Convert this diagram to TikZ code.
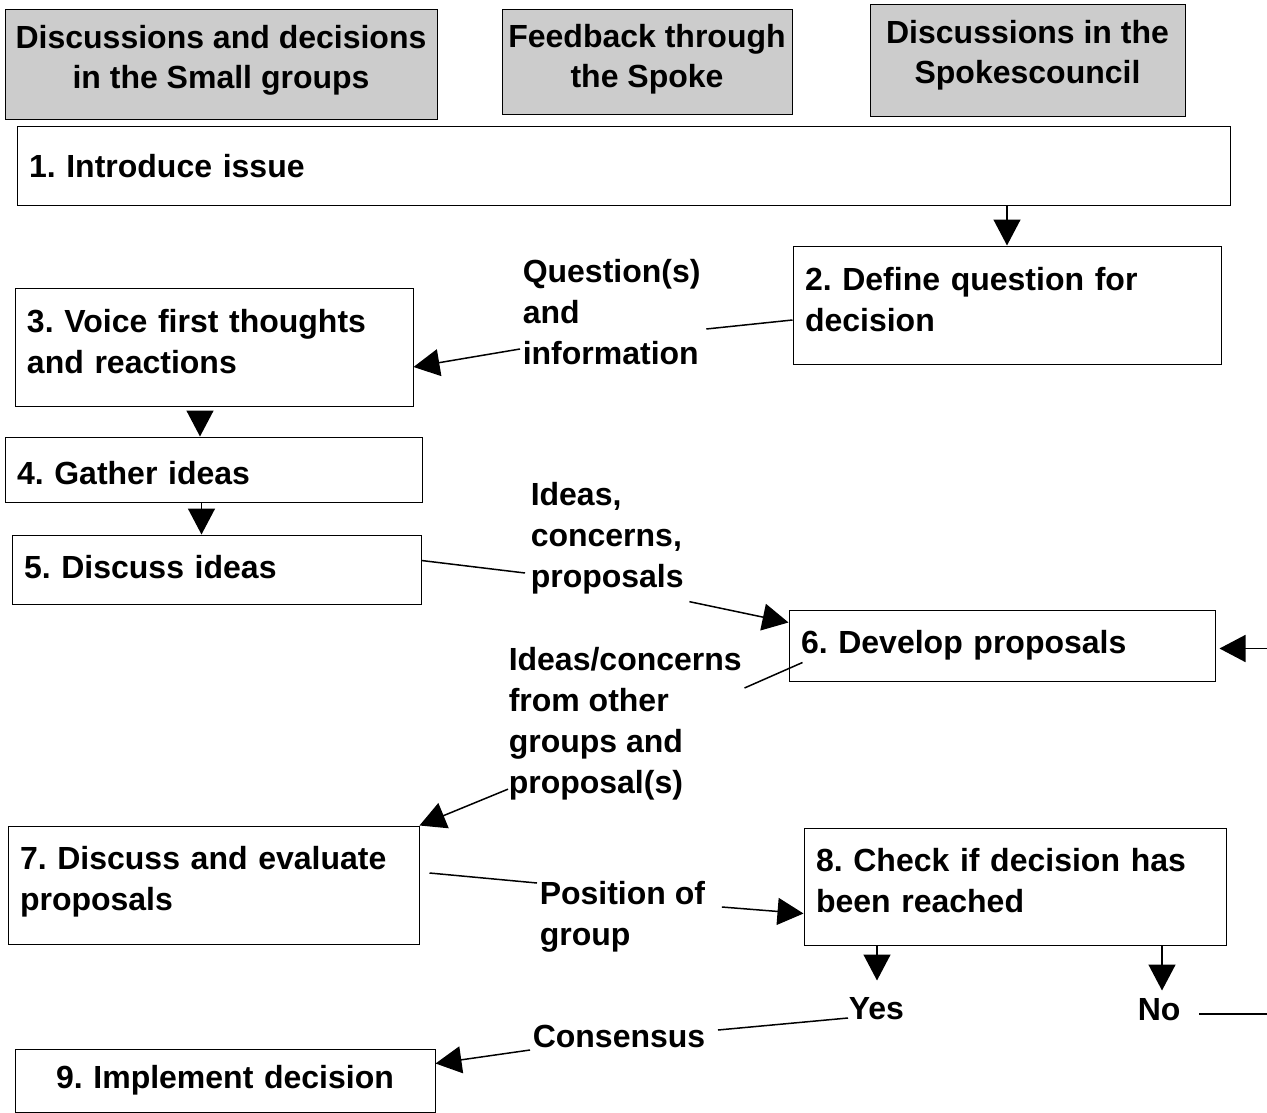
\documentclass[tikz,border=0pt]{standalone}
\usepackage{fontspec}
\setmainfont{Liberation Sans}
\usetikzlibrary{arrows.meta}
\frenchspacing

\begin{document}
\begin{tikzpicture}[x=1pt,y=-1pt,>={Triangle[length=26pt,width=27pt]},
                    line width=1.5pt,
                    every node/.style={font=\bfseries\fontsize{32}{41}\selectfont}]
  \tikzstyle{head}=[draw=black,line width=1pt,fill=black!20,align=center,inner sep=0,
                    font=\bfseries\fontsize{32}{40}\selectfont]
  \tikzstyle{box}=[draw=black,line width=1pt,align=left,inner xsep=12pt,inner ysep=0]
  \tikzstyle{note}=[align=left,inner sep=0,anchor=west]

  \useasboundingbox (0,0) rectangle (1267,1113);
  \clip (0,0) rectangle (1267,1113);

  % column headings
  \node[head,minimum width=432pt,minimum height=110pt,text depth=17pt] (small) at (221,65)
       {Discussions and decisions\\in the Small groups};
  \node[head,minimum width=290pt,minimum height=105pt,text depth=13pt] (spoke) at (647,62.5)
       {Feedback through\\the Spoke};
  \node[head,minimum width=315pt,minimum height=112pt,text depth=19pt] (council) at (1027.5,61)
       {Discussions in the\\Spokescouncil};

  % steps
  \node[box,text width=1189pt,minimum height=78pt]  (introduce) at (623.5,166) {1. Introduce issue};
  \node[box,text width=404pt,minimum height=118pt,text depth=52pt]  (define) at (1007,305)
       {2. Define question for\\decision};
  \node[box,text width=374pt,minimum height=118pt,text depth=53pt]  (voice) at (214,347)
       {3. Voice first thoughts\\and reactions};
  \node[box,text width=393pt,minimum height=65pt,text height=30pt] (gather) at (213.5,469.5) {4. Gather ideas};
  \node[box,text width=385pt,minimum height=69pt,text depth=6pt]   (discuss) at (216.5,569.5) {5. Discuss ideas};
  \node[box,text width=402pt,minimum height=71pt]   (develop)   at (1002,645.5) {6. Develop proposals};
  \node[box,text width=387pt,minimum height=118pt,text depth=54pt] (evaluate) at (213.5,885)
       {7. Discuss and evaluate\\proposals};
  \node[box,text width=398pt,minimum height=117pt,text depth=54pt] (check) at (1015,886.5)
       {8. Check if decision has\\been reached};
  \node[box,align=center,text width=396pt,minimum height=63pt] (implement) at (225,1080.5) {9. Implement decision};

  % labels on the connectors
  \node[note] (qinfo)     at (522,312)  {Question(s)\\and\\information};
  \node[note] (ideas)     at (530,538)  {Ideas,\\concerns,\\proposals};
  \node[note] (other)     at (508,724)  {Ideas/concerns\\from other\\groups and\\proposal(s)};
  \node[note] (position)  at (539,917)  {Position of\\group};
  \node[note] (yes)       at (848,1009) {Yes};
  \node[note] (no)        at (1137,1010) {No};
  \node[note] (consensus) at (532,1036) {Consensus};

  \draw[->] (introduce.south -| define.north) -- (define.north);

  \draw ([yshift=-15pt]define.west) -- ([xshift=5pt,yshift=-17pt]qinfo.east);
  \draw[->] ([xshift=-2pt,yshift=-37pt]qinfo.west) -- ([yshift=-20pt]voice.east);

  \draw[->] ([xshift=-14pt,yshift=-6pt]voice.south) -- ([xshift=-14pt]voice.south |- gather.north);
  \draw[->] ([xshift=-12pt]gather.south) -- ([xshift=-12pt]gather.south |- discuss.north);

  \draw ([yshift=9pt]discuss.east) -- ([xshift=-5pt,yshift=-35pt]ideas.west);
  \draw[->] ([xshift=5pt,yshift=-7pt]ideas.south east) -- ([yshift=23pt]develop.west);

  \draw ([xshift=14pt,yshift=-17pt]develop.west) -- ([xshift=2pt,yshift=36pt]other.east);
  \draw[->] ([yshift=12pt]other.south west) -- (evaluate.north east);

  \draw ([xshift=10pt,yshift=12pt]evaluate.east) -- ([xshift=-2pt,yshift=34pt]position.west);
  \draw[->] ([xshift=16pt,yshift=10pt]position.east) -- ([yshift=-27pt]check.west);

  \draw[->] ([xshift=-138pt]check.south) -- ([xshift=-138pt,yshift=-35pt]check.south);
  \draw[->] ([xshift=147pt]check.south) -- ([xshift=147pt,yshift=-45pt]check.south);

  \draw ([yshift=-9pt]yes.west) -- ([xshift=12pt,yshift=6pt]consensus.east);
  \draw[->] ([xshift=-2pt,yshift=-14pt]consensus.west) -- ([yshift=17pt]implement.east);

  \draw[->] ([xshift=18pt,yshift=-4pt]no.east) -- ++(100,0) |- ([xshift=4pt,yshift=-3pt]develop.east);
\end{tikzpicture}
\end{document}
